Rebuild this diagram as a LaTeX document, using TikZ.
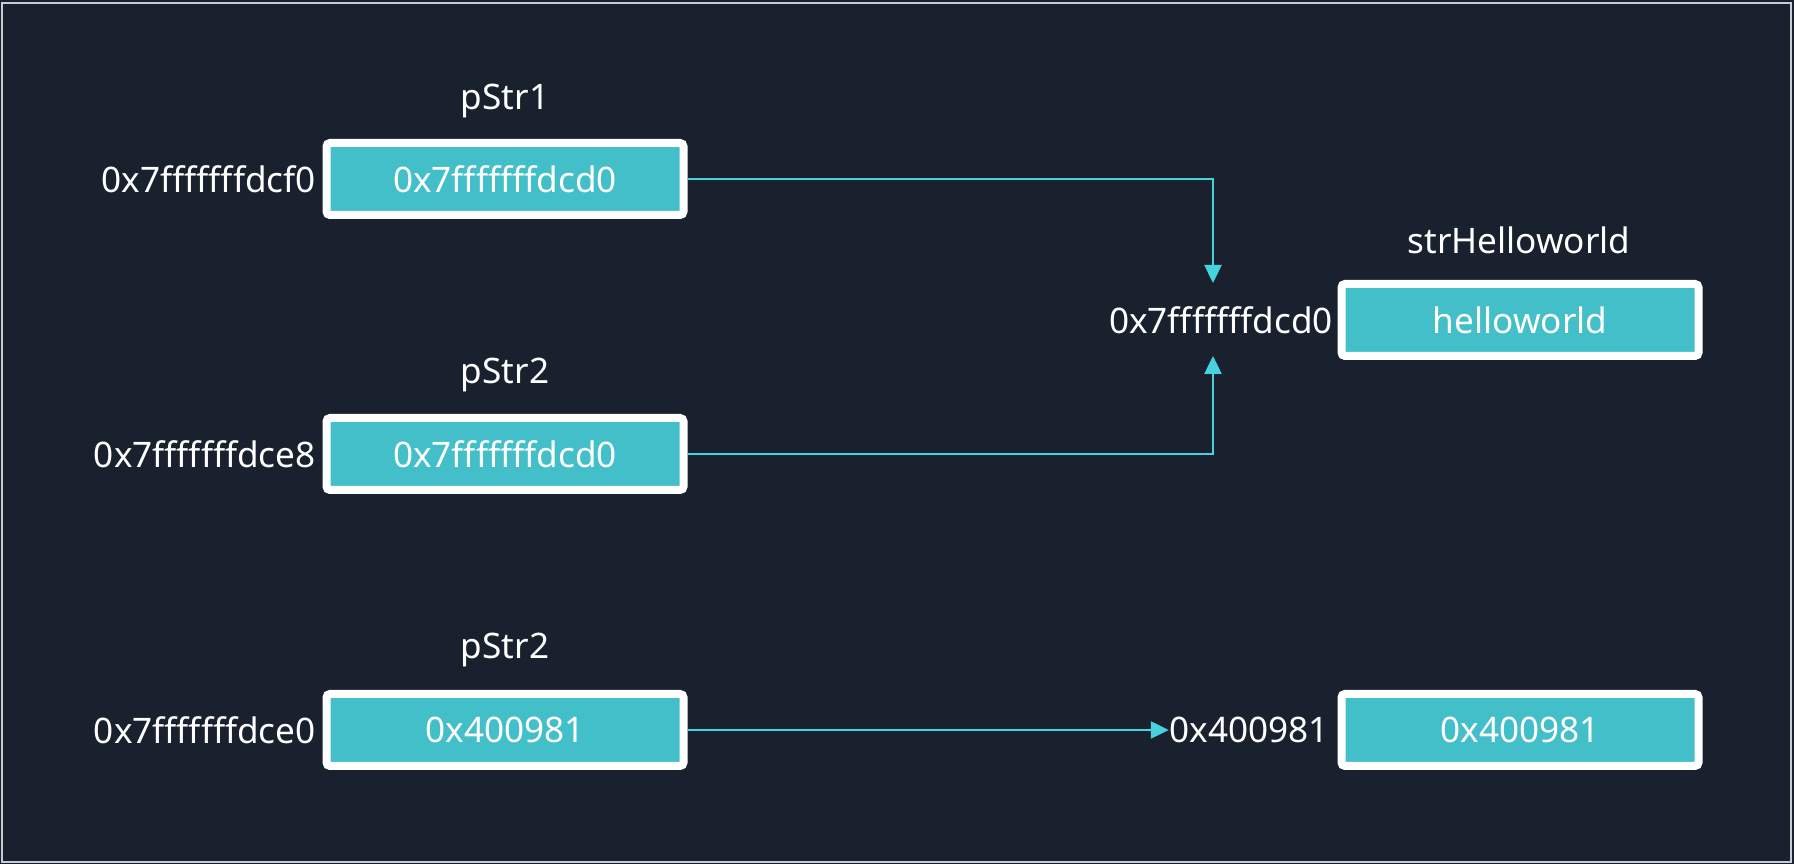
\documentclass[tikz,border=0pt]{standalone}
\usepackage{fontspec}
\setmainfont{Noto Sans}
\usetikzlibrary{positioning,arrows.meta}
\definecolor{bgdark}{HTML}{18212D}
\definecolor{cellteal}{HTML}{43BFC9}
\definecolor{linkcyan}{HTML}{47D2E0}
\definecolor{framegray}{HTML}{C9CDD2}
\begin{document}
\begin{tikzpicture}[x=1cm,y=-1cm,
		cell/.style={draw=white,line width=0.08cm,fill=cellteal,rounded corners=1pt,
			minimum width=3.57cm,minimum height=0.72cm,inner sep=0pt,text=white,
			font=\fontsize{10}{12}\selectfont},
		tag/.style={inner sep=0pt,text=white,font=\fontsize{10}{12}\selectfont},
		link/.style={draw=linkcyan,line width=0.024cm,-{Triangle[length=0.18cm,width=0.17cm]}}]
		% background and frame
		\fill[bgdark] (0,0) rectangle (17.94,8.64);
		\draw[framegray,line width=0.02cm] (0.025,0.035) rectangle (17.91,8.62);
		% pointer cells
		\node[cell] (p1) at (5.05,1.79) {0x7fffffffdcd0};
		\node[cell] (p2) at (5.05,4.54) {0x7fffffffdcd0};
		\node[cell] (p3) at (5.05,7.30) {0x400981};
		\node[tag] (n1) at (5.05,1.01) {pStr1};
		\node[tag] (n2) at (5.05,3.75) {pStr2};
		\node[tag] (n3) at (5.05,6.50) {pStr2};
		\node[tag,left=0.06cm of p1] (a1) {0x7fffffffdcf0};
		\node[tag,left=0.06cm of p2] (a2) {0x7fffffffdce8};
		\node[tag,left=0.06cm of p3] (a3) {0x7fffffffdce0};
		% target cells
		\node[cell] (h1) at (15.20,3.20) {helloworld};
		\node[cell] (h2) at (15.20,7.30) {0x400981};
		\node[tag] (nh) at (15.19,2.40) {strHelloworld};
		\node[tag,left=0.04cm of h1] (ah1) {0x7fffffffdcd0};
		\node[tag,left=0.08cm of h2] (ah2) {0x400981};
		% arrows
		\coordinate (t1) at (12.13,2.83);
		\coordinate (t2) at (12.13,3.56);
		\draw[link] (p1.east) -| (t1);
		\draw[link] (p2.east) -| (t2);
		\draw[link] (p3.east) -- (ah2.west);
	\end{tikzpicture}
\end{document}
